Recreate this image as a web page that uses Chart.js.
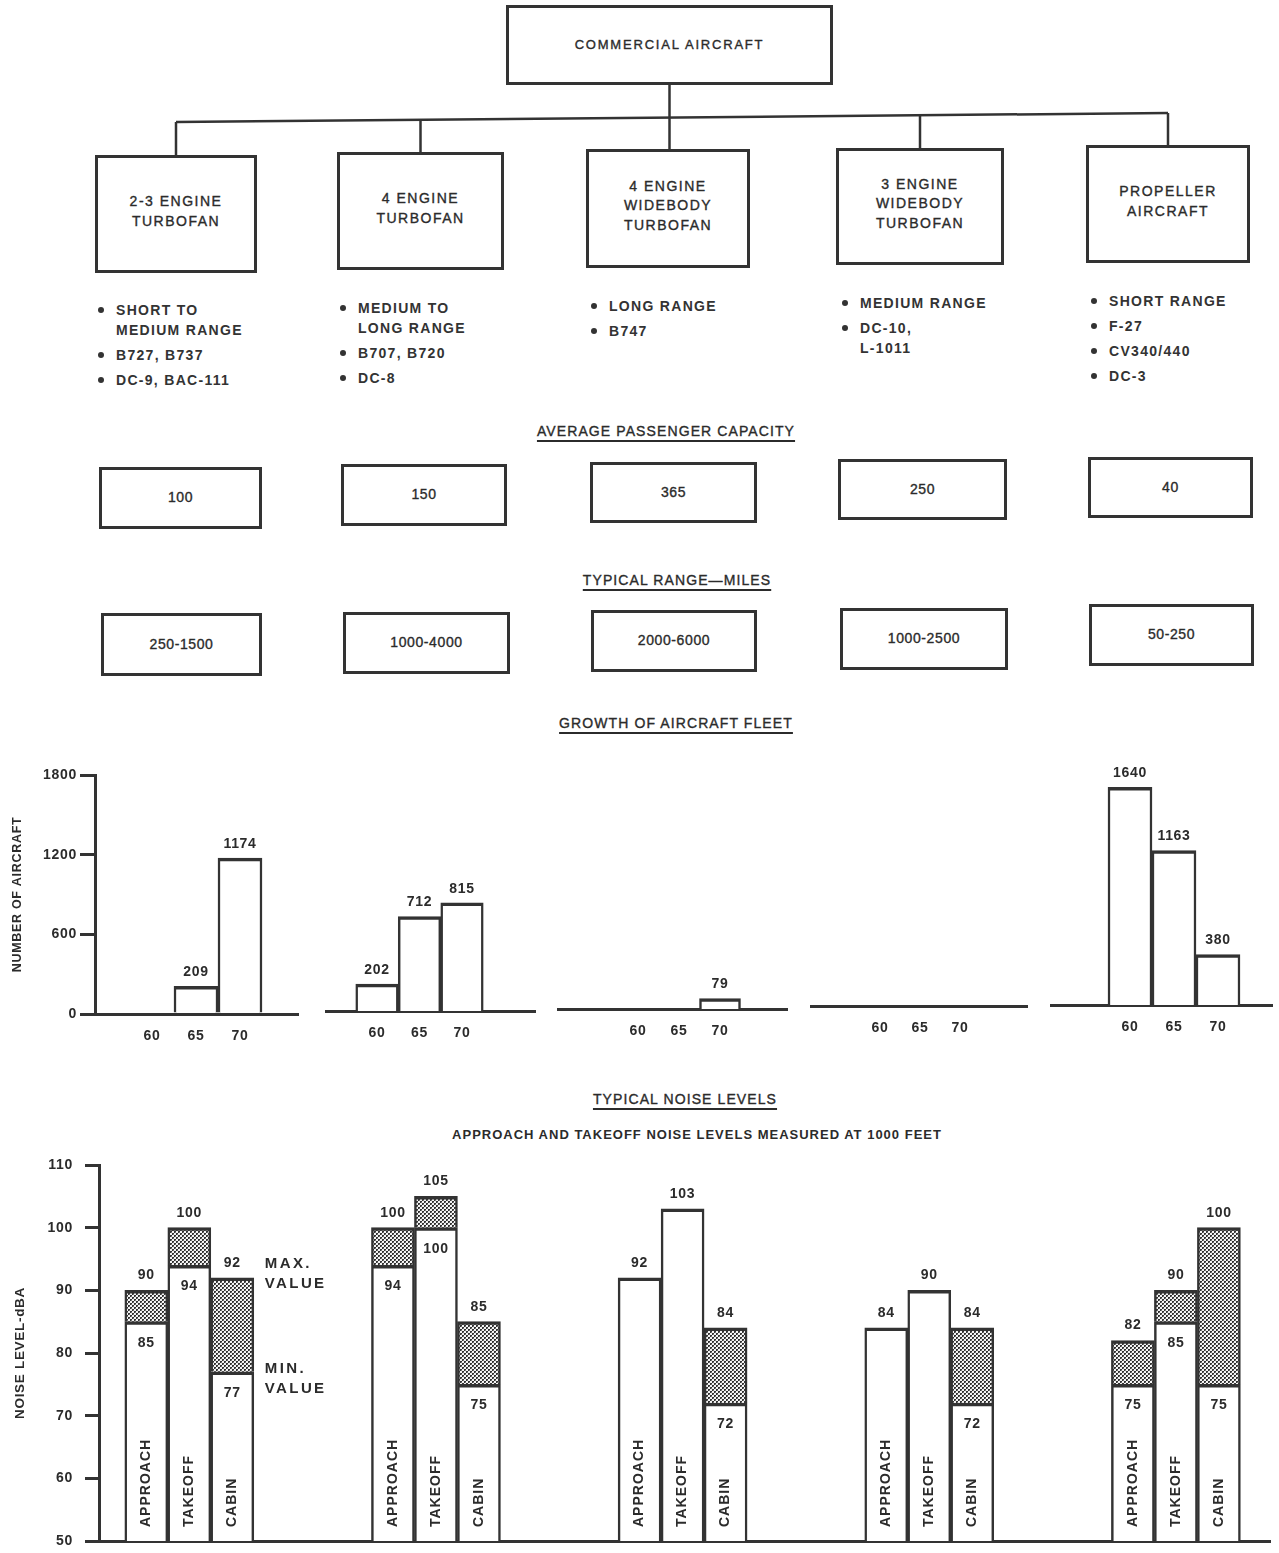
<!DOCTYPE html>
<html>
<head>
<meta charset="utf-8">
<title>Commercial Aircraft</title>
<script src="https://cdn.jsdelivr.net/npm/chart.js@4.4.1/dist/chart.umd.min.js"></script>
<style>
  html, body { margin: 0; padding: 0; background: #fff; }
  body {
    position: relative; width: 1279px; height: 1553px; overflow: hidden;
    font-family: 'Liberation Sans', Arial, sans-serif; color: #2b2b2b;
  }
  canvas, .abs { position: absolute; }
  svg { position: absolute; left: 0; top: 0; }
  .box {
    position: absolute; box-sizing: border-box; border: 3px solid #333;
    display: flex; flex-direction: column; justify-content: center; align-items: center;
    text-align: center; font-size: 14px; letter-spacing: 1.5px; line-height: 19.5px;
    -webkit-text-stroke: 0.35px #2b2b2b; white-space: nowrap;
  }
  .box.type { padding-bottom: 5px; }
  .box.root { font-size: 13px; letter-spacing: 1.8px; }
  .box.value { font-size: 14px; letter-spacing: 0.6px; }
  .note { position: absolute; font-size: 14px; font-weight: bold; letter-spacing: 1.3px;
          white-space: nowrap; line-height: 16px; margin-top: -8px; color: #333; }
  .dot { position: absolute; width: 6px; height: 6px; border-radius: 50%; background: #333;
         margin: -3px 0 0 -3px; }
  .heading { position: absolute; transform: translate(-50%, -50%); white-space: nowrap;
             font-size: 14px; letter-spacing: 1.1px; -webkit-text-stroke: 0.35px #2b2b2b;
             text-decoration: underline; text-underline-offset: 4px; text-decoration-thickness: 1.5px; }
  .heading.plain { text-decoration: none; font-size: 13px; letter-spacing: 1px; font-weight: bold;
                   -webkit-text-stroke: 0; }
</style>
</head>
<body>
<svg id="links" width="1279" height="200"></svg>
<script>
// ---------------------------------------------------------------- data
const rootTitle = 'COMMERCIAL AIRCRAFT';
const typeTitles = [
  ['2-3 ENGINE', 'TURBOFAN'],
  ['4 ENGINE', 'TURBOFAN'],
  ['4 ENGINE', 'WIDEBODY', 'TURBOFAN'],
  ['3 ENGINE', 'WIDEBODY', 'TURBOFAN'],
  ['PROPELLER', 'AIRCRAFT']
];
const typeNotes = [
  [['SHORT TO', 'MEDIUM RANGE'], ['B727, B737'], ['DC-9, BAC-111']],
  [['MEDIUM TO', 'LONG RANGE'], ['B707, B720'], ['DC-8']],
  [['LONG RANGE'], ['B747']],
  [['MEDIUM RANGE'], ['DC-10,', 'L-1011']],
  [['SHORT RANGE'], ['F-27'], ['CV340/440'], ['DC-3']]
];
const passengerCapacity = [100, 150, 365, 250, 40];
const typicalRangeMiles = ['250-1500', '1000-4000', '2000-6000', '1000-2500', '50-250'];

const fleetYears = ['60', '65', '70'];
const fleetTwinTriEngine = [null, 209, 1174];
const fleetFourEngine = [202, 712, 815];
const fleetFourEngineWide = [null, null, 79];
const fleetThreeEngineWide = [null, null, null];
const fleetPropeller = [1640, 1163, 380];
const fleetTicks = [0, 600, 1200, 1800];

const noiseMeasures = ['APPROACH', 'TAKEOFF', 'CABIN'];
const approachMax = [90, 100, 92, 84, 82];
const approachMin = [85, 94, null, null, 75];
const takeoffMax = [100, 105, 103, 90, 90];
const takeoffMin = [94, 100, null, null, 85];
const cabinMax = [92, 85, 84, 84, 100];
const cabinMin = [77, 75, 72, 72, 75];
const noiseTicks = [50, 60, 70, 80, 90, 100, 110];

// ---------------------------------------------------------------- page layout
const rootBox = [506, 5, 327, 80];
const typeBoxes = [[95, 155, 162, 118], [337, 152, 167, 118], [586, 149, 164, 119], [836, 148, 168, 117], [1086, 145, 164, 118]];
const noteBulletX = [101, 343, 594, 845, 1094];
const noteFirstY = [310, 308, 306, 303, 301];
const capacityBoxes = [[99, 467, 163, 62], [341, 464, 166, 62], [590, 462, 167, 61], [838, 459, 169, 61], [1088, 457, 165, 61]];
const rangeBoxes = [[101, 613, 161, 63], [343, 612, 167, 62], [591, 610, 166, 62], [840, 608, 168, 62], [1089, 604, 165, 62]];
const headings = [
  { text: 'AVERAGE PASSENGER CAPACITY', cx: 666, cy: 431 },
  { text: 'TYPICAL RANGE\u2014MILES', cx: 677, cy: 580 },
  { text: 'GROWTH OF AIRCRAFT FLEET', cx: 676, cy: 723 },
  { text: 'TYPICAL NOISE LEVELS', cx: 685, cy: 1099 },
  { text: 'APPROACH AND TAKEOFF NOISE LEVELS MEASURED AT 1000 FEET', cx: 697, cy: 1134, plain: true }
];

const INK = '#2b2b2b';
const LINE = '#333';
const FONT = "'Liberation Sans', Arial, sans-serif";

// ---------------------------------------------------------------- org chart (HTML + SVG)
function addBox(rect, lines, cls) {
  const d = document.createElement('div');
  d.className = 'box ' + cls;
  Object.assign(d.style, { left: rect[0] + 'px', top: rect[1] + 'px', width: rect[2] + 'px', height: rect[3] + 'px' });
  lines.forEach(t => { const s = document.createElement('div'); s.textContent = t; d.appendChild(s); });
  document.body.appendChild(d);
}

addBox(rootBox, [rootTitle], 'root');
typeTitles.forEach((t, i) => addBox(typeBoxes[i], t, 'type'));
passengerCapacity.forEach((v, i) => addBox(capacityBoxes[i], [String(v)], 'value'));
typicalRangeMiles.forEach((v, i) => addBox(rangeBoxes[i], [v], 'value'));

typeNotes.forEach((items, col) => {
  let y = noteFirstY[col];
  const bx = noteBulletX[col];
  items.forEach(lines => {
    const dot = document.createElement('div');
    dot.className = 'dot';
    dot.style.left = bx + 'px'; dot.style.top = y + 'px';
    document.body.appendChild(dot);
    lines.forEach((line, k) => {
      const n = document.createElement('div');
      n.className = 'note';
      n.textContent = line;
      n.style.left = (bx + 15) + 'px'; n.style.top = y + 'px';
      document.body.appendChild(n);
      if (k < lines.length - 1) y += 19.5;
    });
    y += 25;
  });
});

headings.forEach(h => {
  const d = document.createElement('div');
  d.className = 'heading' + (h.plain ? ' plain' : '');
  d.textContent = h.text;
  d.style.left = h.cx + 'px'; d.style.top = h.cy + 'px';
  document.body.appendChild(d);
});

// connectors from the root box down to each aircraft type
(function drawLinks() {
  const svg = document.getElementById('links');
  const ns = 'http://www.w3.org/2000/svg';
  const line = (x1, y1, x2, y2, w) => {
    const l = document.createElementNS(ns, 'line');
    l.setAttribute('x1', x1); l.setAttribute('y1', y1); l.setAttribute('x2', x2); l.setAttribute('y2', y2);
    l.setAttribute('stroke', LINE); l.setAttribute('stroke-width', w);
    svg.appendChild(l);
  };
  const cx = typeBoxes.map(b => b[0] + b[2] / 2);
  const busL = [cx[0], 122], busR = [cx[4], 113];
  const busY = x => busL[1] + (x - busL[0]) / (busR[0] - busL[0]) * (busR[1] - busL[1]);
  line(busL[0], busL[1], busR[0], busR[1], 2.5);
  const trunkX = rootBox[0] + rootBox[2] / 2;
  line(trunkX, rootBox[1] + rootBox[3], trunkX, typeBoxes[2][1], 2.5);
  cx.forEach((x, i) => { if (i !== 2) line(x, busY(x), x, typeBoxes[i][1], 2.5); });
})();

// ---------------------------------------------------------------- charts
Chart.defaults.font.family = FONT;
Chart.defaults.color = INK;
Chart.defaults.animation = false;
Chart.defaults.events = [];
Chart.defaults.plugins.legend.display = false;
Chart.defaults.plugins.tooltip.enabled = false;

const letterSpacing = {
  id: 'letterSpacing',
  beforeDraw(chart, args, opts) { chart.ctx.letterSpacing = opts.value || '0px'; }
};

function makeCanvas(x, y, w, h) {
  const c = document.createElement('canvas');
  c.width = w; c.height = h;
  Object.assign(c.style, { left: x + 'px', top: y + 'px', width: w + 'px', height: h + 'px' });
  document.body.appendChild(c);
  return c;
}

const barBorder = { top: 3.5, left: 2.5, right: 2.5, bottom: 0 };

// growth of fleet: one small panel per aircraft type, sharing the vertical scale
const fleetPanels = [
  { values: fleetTwinTriEngine,   left: 95,   right: 298,  bottom: 1014, first: 152,  step: 44,   axis: true },
  { values: fleetFourEngine,      left: 325,  right: 535,  bottom: 1011, first: 377,  step: 42.5 },
  { values: fleetFourEngineWide,  left: 557,  right: 787,  bottom: 1009, first: 638,  step: 41 },
  { values: fleetThreeEngineWide, left: 810,  right: 1027, bottom: 1006, first: 880,  step: 40 },
  { values: fleetPropeller,       left: 1050, right: 1272, bottom: 1005, first: 1130, step: 44 }
];
const FLEET_H = 239, FLEET_PAD_TOP = 30, FLEET_AXIS_H = 40, FLEET_Y_W = 95;

const fleetValueLabels = {
  id: 'fleetValueLabels',
  afterDatasetsDraw(chart) {
    const ctx = chart.ctx;
    const meta = chart.getDatasetMeta(0);
    ctx.save();
    ctx.font = 'bold 14px ' + FONT;
    ctx.letterSpacing = '0.7px';
    ctx.fillStyle = INK;
    ctx.textAlign = 'center';
    ctx.textBaseline = 'middle';
    chart.data.datasets[0].data.forEach((v, i) => {
      if (v == null) return;
      const bar = meta.data[i];
      ctx.fillText(String(v), bar.x, bar.y - 14);
    });
    ctx.restore();
  }
};

fleetPanels.forEach(p => {
  const top = p.bottom - FLEET_H;
  const cLeft = p.axis ? 0 : p.left;
  const cTop = top - FLEET_PAD_TOP;
  const canvas = makeCanvas(cLeft, cTop, p.right - cLeft + 2, p.bottom + FLEET_AXIS_H - cTop);
  const yearSpan = 5; // years between bars
  const xMin = Number(fleetYears[0]) - (p.first - p.left) / p.step * yearSpan;
  const xMax = xMin + (p.right - p.left) / p.step * yearSpan;
  new Chart(canvas, {
    type: 'bar',
    data: {
      labels: fleetYears,
      datasets: [{
        data: p.values,
        backgroundColor: '#fff',
        borderColor: LINE,
        borderWidth: barBorder,
        borderSkipped: 'start',
        barThickness: p.step
      }]
    },
    options: {
      responsive: false,
      layout: { padding: { top: FLEET_PAD_TOP, right: 2, left: 0, bottom: 0 } },
      scales: {
        x: {
          type: 'linear', min: xMin, max: xMax, offset: false,
          grid: { display: false, drawTicks: false, offset: false },
          border: { display: true, color: LINE, width: 3 },
          afterBuildTicks: s => { s.ticks = fleetYears.map(v => ({ value: Number(v) })); },
          ticks: { padding: 14, font: { size: 14, weight: 'bold' }, color: INK, callback: v => String(v) },
          afterFit: s => { s.height = FLEET_AXIS_H; }
        },
        y: {
          display: !!p.axis,
          min: 0, max: fleetTicks[fleetTicks.length - 1], stacked: false,
          afterBuildTicks: s => { s.ticks = fleetTicks.map(v => ({ value: v })); },
          grid: { drawOnChartArea: false, tickLength: 15, lineWidth: 3, color: LINE },
          border: { display: true, color: LINE, width: 3 },
          ticks: { padding: 3, font: { size: 14, weight: 'bold' }, color: INK, callback: v => String(v) },
          title: { display: true, text: 'NUMBER OF AIRCRAFT', font: { size: 12.5, weight: 'bold' }, color: INK, padding: { top: 10, bottom: 0 } },
          afterFit: s => { if (p.axis) s.width = FLEET_Y_W; }
        }
      },
      plugins: { letterSpacing: { value: '0.7px' } }
    },
    plugins: [letterSpacing, fleetValueLabels]
  });
});

// typical noise levels: white bar up to the minimum, stippled band from minimum to maximum
const noiseSeries = [
  { name: noiseMeasures[0], min: approachMin, max: approachMax },
  { name: noiseMeasures[1], min: takeoffMin, max: takeoffMax },
  { name: noiseMeasures[2], min: cabinMin, max: cabinMax }
];
const noiseArea = { left: 99, right: 1270, top: 1165, bottom: 1541, first: 189.3, step: 246.65 };
const NOISE_PAD_TOP = 24, NOISE_AXIS_H = 32;
const noiseCanvasTop = noiseArea.top - NOISE_PAD_TOP;
const noiseCanvas = makeCanvas(0, noiseCanvasTop, 1279, noiseArea.bottom + NOISE_AXIS_H - noiseCanvasTop);

// dot screen used for the min-to-max band
function stipple(ctx) {
  const t = document.createElement('canvas');
  t.width = 4; t.height = 4;
  const g = t.getContext('2d');
  g.fillStyle = '#f4f4f4'; g.fillRect(0, 0, 4, 4);
  const dot = (x, y) => {
    g.fillStyle = '#333'; g.fillRect(x, y, 2, 2);
    g.fillStyle = '#777'; g.fillRect(x + 1, y + 1, 1, 1);
  };
  dot(0, 0); dot(2, 2);
  return ctx.createPattern(t, 'repeat');
}
const stipplePattern = stipple(noiseCanvas.getContext('2d'));
const yFloor = noiseTicks[0];

const noiseDatasets = [];
noiseSeries.forEach(s => {
  const common = {
    stack: s.name,
    borderColor: LINE,
    borderWidth: barBorder,
    borderSkipped: 'start',
    barThickness: 43
  };
  noiseDatasets.push(Object.assign({
    label: s.name,
    backgroundColor: '#fff',
    data: s.max.map((mx, i) => ({ x: i, y: [yFloor, s.min[i] != null ? s.min[i] : mx] }))
  }, common));
  noiseDatasets.push(Object.assign({
    label: s.name + ' range',
    backgroundColor: stipplePattern,
    data: s.max.map((mx, i) => ({ x: i, y: s.min[i] != null ? [s.min[i], mx] : null }))
  }, common));
});

const noiseLabels = {
  id: 'noiseLabels',
  afterDatasetsDraw(chart) {
    const ctx = chart.ctx;
    const y = chart.scales.y;
    ctx.save();
    ctx.fillStyle = INK;
    noiseSeries.forEach((s, m) => {
      const meta = chart.getDatasetMeta(2 * m);
      s.max.forEach((mx, i) => {
        const bar = meta.data[i];
        ctx.font = 'bold 14px ' + FONT;
        ctx.letterSpacing = '0.7px';
        ctx.textAlign = 'center';
        ctx.textBaseline = 'middle';
        ctx.fillText(String(mx), bar.x, y.getPixelForValue(mx) - 15);
        if (s.min[i] != null) ctx.fillText(String(s.min[i]), bar.x, y.getPixelForValue(s.min[i]) + 21);
        ctx.save();
        ctx.translate(bar.x, chart.chartArea.bottom - 14);
        ctx.rotate(-Math.PI / 2);
        ctx.textAlign = 'left';
        ctx.letterSpacing = '1px';
        ctx.fillText(s.name, 0, 0);
        ctx.restore();
      });
    });
    // legend-style notes beside the first cabin bar
    const cabin = noiseSeries[2];
    const ref = chart.getDatasetMeta(4).data[0];
    const lx = ref.x + ref.width / 2 + 11;
    const yMax = y.getPixelForValue(cabin.max[0]);
    const yMin = y.getPixelForValue(cabin.min[0]);
    ctx.font = 'bold 15px ' + FONT;
    ctx.letterSpacing = '2.4px';
    ctx.textAlign = 'left';
    ctx.textBaseline = 'middle';
    ctx.fillText('MAX.', lx, yMax - 14);
    ctx.fillText('VALUE', lx, yMax + 6);
    ctx.fillText('MIN.', lx, yMin - 3);
    ctx.fillText('VALUE', lx, yMin + 17);
    ctx.restore();
  }
};

const nxMin = -(noiseArea.first - noiseArea.left) / noiseArea.step;
const nxMax = nxMin + (noiseArea.right - noiseArea.left) / noiseArea.step;

new Chart(noiseCanvas, {
  type: 'bar',
  data: { datasets: noiseDatasets },
  options: {
    responsive: false,
    layout: { padding: { top: NOISE_PAD_TOP, right: 1279 - noiseArea.right, left: 0, bottom: 0 } },
    scales: {
      x: {
        type: 'linear', min: nxMin, max: nxMax, offset: false,
        grid: { display: false, drawTicks: false, offset: false },
        border: { display: true, color: LINE, width: 3 },
        ticks: { display: false },
        afterFit: s => { s.height = NOISE_AXIS_H; }
      },
      y: {
        min: yFloor, max: noiseTicks[noiseTicks.length - 1], stacked: false,
        afterBuildTicks: s => { s.ticks = noiseTicks.map(v => ({ value: v })); },
        grid: { drawOnChartArea: false, tickLength: 14, lineWidth: 3, color: LINE },
        border: { display: true, color: LINE, width: 3 },
        ticks: { padding: 12, font: { size: 14, weight: 'bold' }, color: INK },
        title: { display: true, text: 'NOISE LEVEL-dBA', font: { size: 13.5, weight: 'bold' }, color: INK, padding: { top: 12, bottom: 0 } },
        afterFit: s => { s.width = noiseArea.left; }
      }
    },
    plugins: { letterSpacing: { value: '0.7px' } }
  },
  plugins: [letterSpacing, noiseLabels]
});
</script>
</body>
</html>
